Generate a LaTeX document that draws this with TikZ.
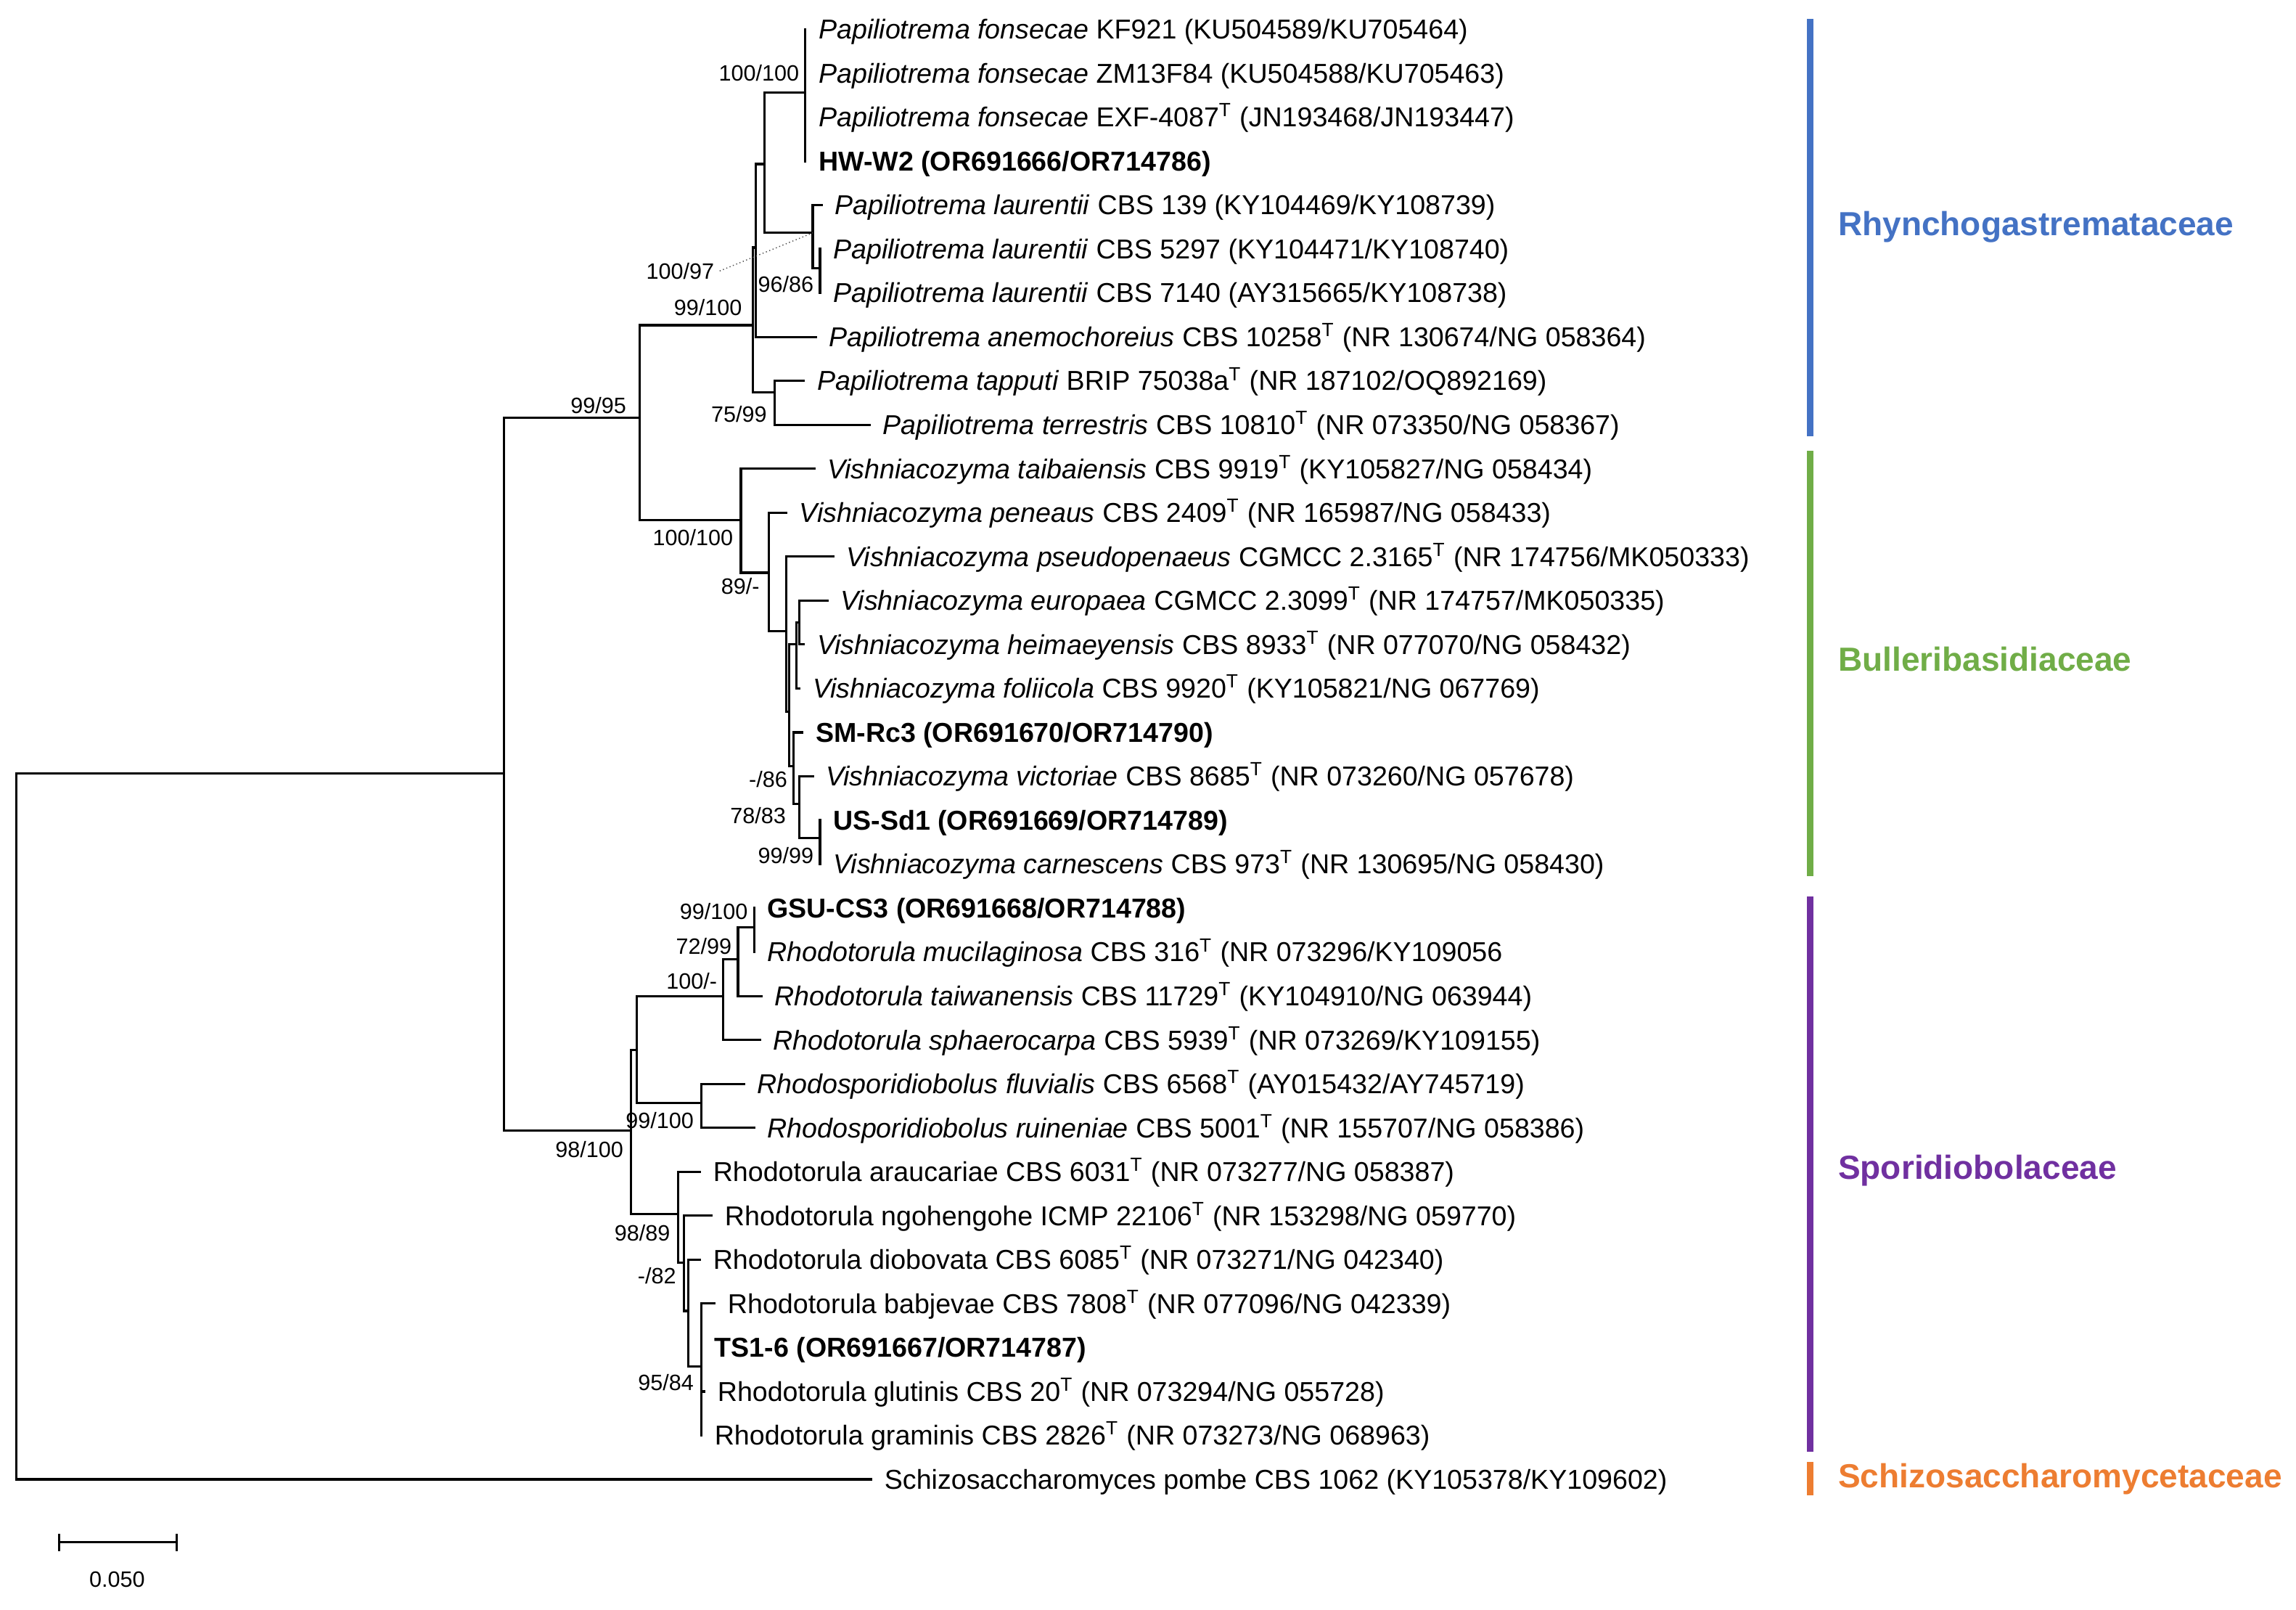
\documentclass[tikz,border=0pt]{standalone}
\usepackage{fontspec}
\setmainfont{Liberation Sans}
\usetikzlibrary{positioning}
\definecolor{famblue}{HTML}{4472C4}
\definecolor{famgreen}{HTML}{70AD47}
\definecolor{fampurple}{HTML}{7030A0}
\definecolor{famorange}{HTML}{ED7D31}
\newcommand{\Tsup}{\textsuperscript{T}}

\begin{document}
\begin{tikzpicture}[x=0.2018mm,y=-0.2018mm,
  branch/.style={line width=0.9pt,line cap=rect},
  tip/.style={anchor=west,inner xsep=5pt,inner ysep=0pt,text height=7.6pt,text depth=0pt,font=\fontsize{10.7}{12}\selectfont},
  boot/.style={anchor=east,inner sep=0pt,text height=6.2pt,text depth=0pt,font=\fontsize{8.7}{10}\selectfont},
  leader/.style={densely dotted,line width=0.4pt,black!70},
  famlabel/.style={anchor=west,inner sep=0pt,font=\fontsize{13.1}{15}\selectfont\bfseries},
  fambar/.style={line width=2.6pt}]

\useasboundingbox (0,0) rectangle (1568,1099);

% taxa, one row each
\def\taxa{0/550/{\textit{Papiliotrema fonsecae} KF921 (KU504589/KU705464)},
  1/550/{\textit{Papiliotrema fonsecae} ZM13F84 (KU504588/KU705463)},
  2/550/{\textit{Papiliotrema fonsecae} EXF-4087\Tsup{} (JN193468/JN193447)},
  3/550/{\bfseries HW-W2 (OR691666/OR714786)},
  4/561/{\textit{Papiliotrema laurentii} CBS 139 (KY104469/KY108739)},
  5/560/{\textit{Papiliotrema laurentii} CBS 5297 (KY104471/KY108740)},
  6/560/{\textit{Papiliotrema laurentii} CBS 7140 (AY315665/KY108738)},
  7/557/{\textit{Papiliotrema anemochoreius} CBS 10258\Tsup{} (NR 130674/NG 058364)},
  8/549/{\textit{Papiliotrema tapputi} BRIP 75038a\Tsup{} (NR 187102/OQ892169)},
  9/594/{\textit{Papiliotrema terrestris} CBS 10810\Tsup{} (NR 073350/NG 058367)},
  10/556/{\textit{Vishniacozyma taibaiensis} CBS 9919\Tsup{} (KY105827/NG 058434)},
  11/537/{\textit{Vishniacozyma peneaus} CBS 2409\Tsup{} (NR 165987/NG 058433)},
  12/569/{\textit{Vishniacozyma pseudopenaeus} CGMCC 2.3165\Tsup{} (NR 174756/MK050333)},
  13/565/{\textit{Vishniacozyma europaea} CGMCC 2.3099\Tsup{} (NR 174757/MK050335)},
  14/549/{\textit{Vishniacozyma heimaeyensis} CBS 8933\Tsup{} (NR 077070/NG 058432)},
  15/546/{\textit{Vishniacozyma foliicola} CBS 9920\Tsup{} (KY105821/NG 067769)},
  16/548/{\bfseries SM-Rc3 (OR691670/OR714790)},
  17/555/{\textit{Vishniacozyma victoriae} CBS 8685\Tsup{} (NR 073260/NG 057678)},
  18/560/{\bfseries US-Sd1 (OR691669/OR714789)},
  19/560/{\textit{Vishniacozyma carnescens} CBS 973\Tsup{} (NR 130695/NG 058430)},
  20/515/{\bfseries GSU-CS3 (OR691668/OR714788)},
  21/515/{\textit{Rhodotorula mucilaginosa} CBS 316\Tsup{} (NR 073296/KY109056},
  22/520/{\textit{Rhodotorula taiwanensis} CBS 11729\Tsup{} (KY104910/NG 063944)},
  23/519/{\textit{Rhodotorula sphaerocarpa} CBS 5939\Tsup{} (NR 073269/KY109155)},
  24/508/{\textit{Rhodosporidiobolus fluvialis} CBS 6568\Tsup{} (AY015432/AY745719)},
  25/515/{\textit{Rhodosporidiobolus ruineniae} CBS 5001\Tsup{} (NR 155707/NG 058386)},
  26/478/{Rhodotorula araucariae CBS 6031\Tsup{} (NR 073277/NG 058387)},
  27/486/{Rhodotorula ngohengohe ICMP 22106\Tsup{} (NR 153298/NG 059770)},
  28/478/{Rhodotorula diobovata CBS 6085\Tsup{} (NR 073271/NG 042340)},
  29/488/{Rhodotorula babjevae CBS 7808\Tsup{} (NR 077096/NG 042339)},
  30/479/{\bfseries TS1-6 (OR691667/OR714787)},
  31/481/{Rhodotorula glutinis CBS 20\Tsup{} (NR 073294/NG 055728)},
  32/479/{Rhodotorula graminis CBS 2826\Tsup{} (NR 073273/NG 068963)},
  33/595/{Schizosaccharomyces pombe CBS 1062 (KY105378/KY109602)}}
\foreach \i / \x / \txt in \taxa
  \node [tip] (t\i) at (\x,{20+30*\i}) {\txt};

% inner nodes of the tree
\def\inner{root/11/769, nA/344/528, nB/437/285, nH/514/222, nG/516/169,
  nD/522/112, nFon/550/63, nE/555/159, nF/560/183, nI/529/268,
  nJ/506/355, nK/525/391, nL/537/431, nL2/539/486, nM/544/440,
  nM2/546/425, nP/542/523, nQ/546/549, nR/560/572,
  nS/431/772, nT/435/717, nV/494/680, nW/504/655, nX/515/633,
  nU/479/753, nY/463/829, nZ/467/862, nZ2/470/895, nAA/479/933}
\foreach \n / \x / \y in \inner
  \coordinate (\n) at (\x,\y);

% branches
\def\edges{root/nA, root/t33.west, nA/nB, nA/nS, nB/nH, nB/nJ,
  nH/nG, nH/nI, nG/nD, nG/t7.west, nD/nFon, nD/nE,
  nFon/t0.west, nFon/t1.west, nFon/t2.west, nFon/t3.west,
  nE/t4.west, nE/nF, nF/t5.west, nF/t6.west, nI/t8.west, nI/t9.west,
  nJ/t10.west, nJ/nK, nK/t11.west, nK/nL, nL/t12.west, nL/nL2,
  nL2/nM, nL2/nP, nM/nM2, nM/t15.west, nM2/t13.west, nM2/t14.west,
  nP/t16.west, nP/nQ, nQ/t17.west, nQ/nR, nR/t18.west, nR/t19.west,
  nS/nT, nS/nY, nT/nV, nT/nU, nV/nW, nV/t23.west, nW/nX, nW/t22.west,
  nX/t20.west, nX/t21.west, nU/t24.west, nU/t25.west,
  nY/t26.west, nY/nZ, nZ/t27.west, nZ/nZ2, nZ2/t28.west, nZ2/nAA,
  nAA/t29.west, nAA/t30.west, nAA/t31.west, nAA/t32.west}
\foreach \p / \c in \edges
  \draw [branch] (\p) |- (\c);

% bootstrap values
\def\boots{546/50/{100/100}, 556/194/{96/86}, 507/210/{99/100},
  524/283/{75/99}, 428/277/{99/95}, 501/367/{100/100}, 519/400/{89/-},
  538/532/{-/86}, 537/557/{78/83}, 556/584/{99/99}, 511/622/{99/100},
  500/646/{72/99}, 490/670/{100/-}, 474/765/{99/100}, 426/785/{98/100},
  458/842/{98/89}, 462/871/{-/82}, 474/944/{95/84}}
\foreach \x / \y / \v [count=\k] in \boots
  \node [boot] (bs\k) at (\x,\y) {\v};
\node [boot] (bsE) at (488,185) {100/97};
\draw [leader] ([xshift=2pt]bsE.east) -- (nE);

% families
\def\fams{famblue/13/298/155/Rhynchogastremataceae,
  famgreen/308/598/450/Bulleribasidiaceae,
  fampurple/612/991/799/Sporidiobolaceae,
  famorange/998/1021/1010/Schizosaccharomycetaceae}
\foreach \col / \ya / \yb / \yl / \fam in \fams {
  \draw [fambar,\col] (1236,\ya) -- (1236,\yb);
  \node [famlabel,text=\col] (f\yl) at (1255,\yl) {\fam};
}

% scale bar
\coordinate (sbl) at (40.5,1053);
\coordinate (sbr) at (120.5,1053);
\draw [branch] (sbl) -- (sbr);
\draw [branch] ([yshift=3pt]sbl) -- ([yshift=-3pt]sbl);
\draw [branch] ([yshift=3pt]sbr) -- ([yshift=-3pt]sbr);
\node [boot,anchor=center] (sblab) at (80,1078) {0.050};

\end{tikzpicture}
\end{document}
